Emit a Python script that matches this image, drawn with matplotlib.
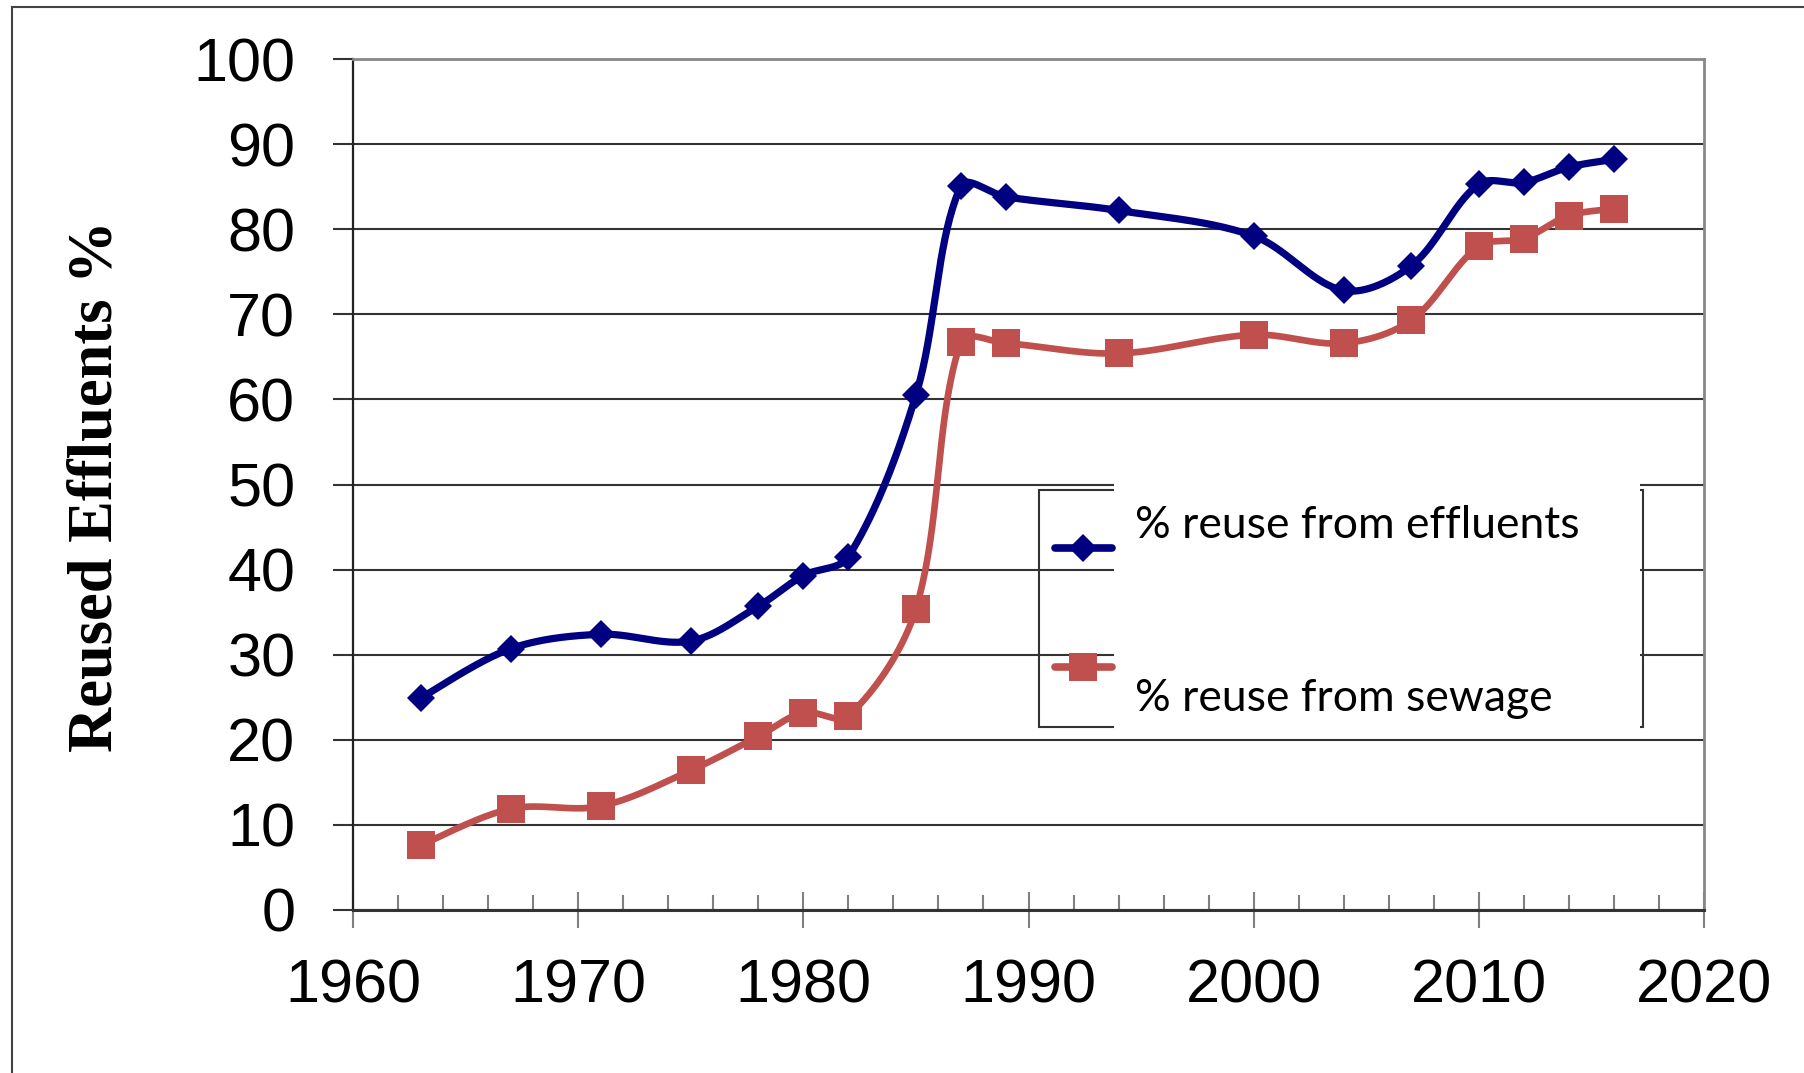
import matplotlib

matplotlib.use("Agg")
import matplotlib.pyplot as plt
import numpy as np
from matplotlib.lines import Line2D
from matplotlib.patches import Rectangle

years = [1963, 1967, 1971, 1975, 1978, 1980, 1982, 1985, 1987, 1989,
         1994, 2000, 2004, 2007, 2010, 2012, 2014, 2016]
effluents = [24.9, 30.7, 32.4, 31.6, 35.7, 39.3, 41.5, 60.5, 85.1, 83.8,
             82.2, 79.2, 72.8, 75.7, 85.3, 85.5, 87.3, 88.2]
sewage = [7.6, 11.9, 12.2, 16.4, 20.4, 23.2, 22.8, 35.4, 66.8, 66.6,
          65.4, 67.6, 66.6, 69.3, 78.0, 78.9, 81.6, 82.4]
labels = ["% reuse from effluents", "% reuse from sewage"]

BLUE = "#000080"
RED = "#C0504D"
W, H = 1804, 1073
AX_L, AX_R, AX_T, AX_B = 353, 1704, 59, 910  # axes box, pixels
PX_X = (AX_R - AX_L) / 60.0   # pixels per year
PX_Y = (AX_B - AX_T) / 100.0  # pixels per percent


def smooth(x, y, n=40):
    """Excel-like smoothed line: chord-weighted Catmull-Rom Bezier segments."""
    p = np.column_stack([x, y]).astype(float)
    p = np.vstack([p[0], p, p[-1]])
    scale = np.array([PX_X, PX_Y])

    def dist(a, b):
        return np.hypot(*((a - b) * scale))

    out = []
    t = np.linspace(0, 1, n)[:, None]
    for i in range(1, len(p) - 2):
        b0, b3 = p[i], p[i + 1]
        d_prev, d_cur, d_next = dist(p[i - 1], p[i]), dist(p[i], p[i + 1]), dist(p[i + 1], p[i + 2])
        w0 = d_cur / (d_prev + d_cur) / 3 if d_prev > 0 else 1 / 6
        w1 = d_cur / (d_cur + d_next) / 3 if d_next > 0 else 1 / 6
        b1 = b0 + (p[i + 1] - p[i - 1]) * w0
        b2 = b3 - (p[i + 2] - p[i]) * w1
        seg = ((1 - t) ** 3 * b0 + 3 * (1 - t) ** 2 * t * b1
               + 3 * (1 - t) * t ** 2 * b2 + t ** 3 * b3)
        out.append(seg if i == 1 else seg[1:])
    out = np.vstack(out)
    return out[:, 0], out[:, 1]


def fx(px):
    return px / W


def fy(py):
    return 1 - py / H


fig = plt.figure(figsize=(W / 100, H / 100), dpi=100)
ax = fig.add_axes([fx(AX_L), fy(AX_B), fx(AX_R) - fx(AX_L), fy(AX_T) - fy(AX_B)])

sx, sy = smooth(years, effluents)
ax.plot(sx, sy, color=BLUE, lw=5.2, zorder=3, solid_capstyle="round")
ax.plot(years, effluents, ls="none", marker="D", ms=14, color=BLUE, mew=0, zorder=4)
rx, ry = smooth(years, sewage)
ax.plot(rx, ry, color=RED, lw=4.8, zorder=3, solid_capstyle="round")
ax.plot(years, sewage, ls="none", marker="s", ms=20, color=RED, mew=0, zorder=4)

ax.set_xlim(1960, 2020)
ax.set_ylim(0, 100)
ax.set_xticks(range(1960, 2021, 10))
ax.set_xticks(range(1960, 2021, 2), minor=True)
ax.set_yticks(range(0, 101, 10))

tick_font = {"family": "Liberation Sans", "size": 44}
ax.set_xticklabels([str(v) for v in range(1960, 2021, 10)], fontdict=tick_font)
ax.set_yticklabels([str(v) for v in range(0, 101, 10)], fontdict=tick_font)

ax.tick_params(axis="x", which="major", direction="inout", length=26, width=1.5,
               color="#808080", pad=22)
ax.tick_params(axis="x", which="minor", direction="in", length=11, width=1.5,
               color="#808080")
ax.tick_params(axis="y", which="major", direction="out", length=14.5, width=1.5,
               color="#333333", pad=27)

ax.grid(axis="y", color="#333333", lw=1.5, zorder=1)
ax.set_axisbelow(True)
for side in ("top", "right"):
    ax.spines[side].set_color("#888888")
    ax.spines[side].set_linewidth(2)
ax.spines["left"].set_color("#222222")
ax.spines["left"].set_linewidth(1.6)
ax.spines["bottom"].set_color("#333333")
ax.spines["bottom"].set_linewidth(2.2)

fig.text(fx(97), fy(486), "Reused Effluents %", rotation=90, ha="center", va="center",
         family="Liberation Serif", weight="bold", size=45)

# legend box, drawn by hand to keep the original's offset labels
fig.add_artist(Rectangle((fx(1039), fy(727)), fx(1643) - fx(1039), fy(490) - fy(727),
                         transform=fig.transFigure, fill=False, ec="#333333", lw=1.5,
                         zorder=5))
fig.add_artist(Rectangle((fx(1114), fy(730)), fx(1640) - fx(1114), fy(483) - fy(730),
                         transform=fig.transFigure, fc="white", ec="none", zorder=6))
for yy, col, mk, ms in [(548, BLUE, "D", 14), (667, RED, "s", 20)]:
    fig.add_artist(Line2D([fx(1055), fx(1112)], [fy(yy), fy(yy)], transform=fig.transFigure,
                          color=col, lw=5.5, solid_capstyle="round", zorder=7))
    fig.add_artist(Line2D([fx(1083)], [fy(yy)], transform=fig.transFigure, color=col,
                          marker=mk, ms=ms, mew=0, zorder=8))
fig.text(fx(1135), fy(538), labels[0], ha="left", va="baseline", family="Lato", size=32,
         zorder=9)
fig.text(fx(1135), fy(711), labels[1], ha="left", va="baseline", family="Lato", size=32,
         zorder=9)

# outer border of the original picture
fig.add_artist(Line2D([fx(12), fx(12)], [fy(7), 0], transform=fig.transFigure,
                      color="#444444", lw=1.5))
fig.add_artist(Line2D([fx(12), 1], [fy(7), fy(7)], transform=fig.transFigure,
                      color="#444444", lw=1.5))

fig.savefig("out.png", dpi=100)
